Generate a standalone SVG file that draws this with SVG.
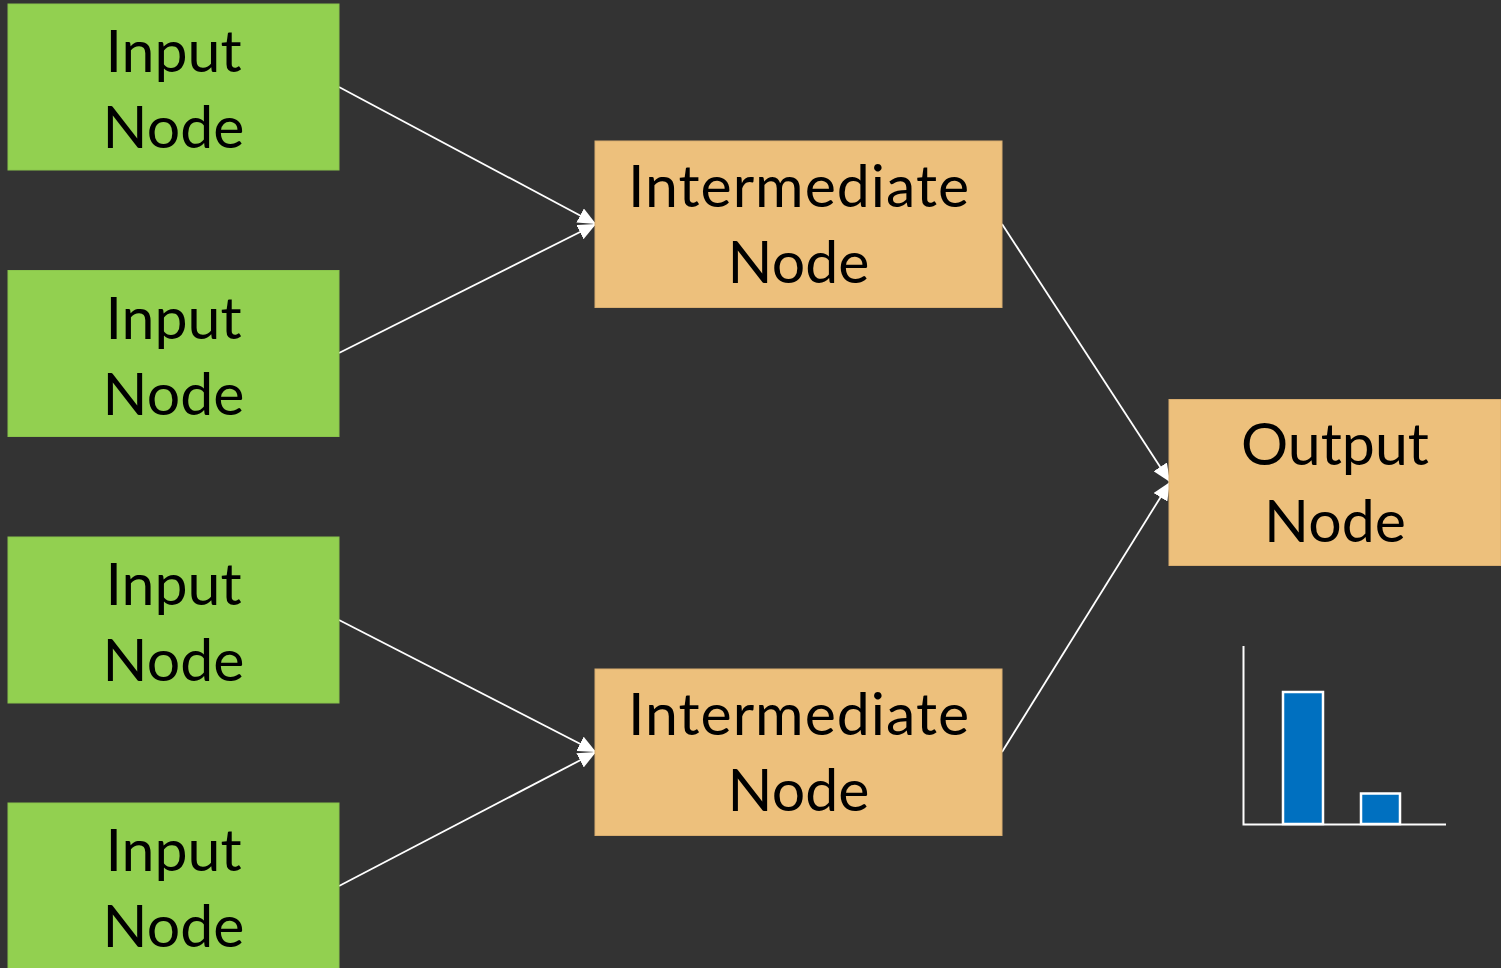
<svg xmlns="http://www.w3.org/2000/svg" width="1501" height="968" viewBox="0 0 1501 968">
  <style>
    .bg { fill: #333333; }
    .input { fill: #92D050; stroke: #8AC44C; stroke-width: 1; }
    .mid { fill: #EDC07C; stroke: #D9AE70; stroke-width: 1; }
    .label { font-family: Lato, "Liberation Sans", sans-serif; font-size: 59px; fill: #000000; text-anchor: middle; }
    .wide { letter-spacing: 1px; }
    .edge { stroke: #FFFFFF; stroke-width: 1.8; fill: none; marker-end: url(#arrow); }
    .bar { fill: #0070C0; stroke: #FFFFFF; stroke-width: 2.5; }
    .axis { stroke: #FFFFFF; stroke-width: 2; fill: none; }
  </style>
  <defs>
    <marker id="arrow" viewBox="0 0 18 16" refX="18" refY="8" markerWidth="18" markerHeight="16" markerUnits="userSpaceOnUse" orient="auto">
      <path d="M0,0 L18,8 L0,16 Z" fill="#FFFFFF"/>
    </marker>
  </defs>

  <rect class="bg" x="0" y="0" width="1501" height="968"/>

  <!-- connectors -->
  <g id="connectors">
    <line class="edge" x1="339" y1="87" x2="596" y2="224"/>
    <line class="edge" x1="339" y1="353" x2="596" y2="224"/>
    <line class="edge" x1="339" y1="620" x2="596" y2="752"/>
    <line class="edge" x1="339" y1="886" x2="596" y2="752"/>
    <line class="edge" x1="1002" y1="224" x2="1170" y2="482"/>
    <line class="edge" x1="1002" y1="752" x2="1170" y2="482"/>
  </g>

  <!-- input layer -->
  <g id="input1">
    <rect class="input" x="8" y="4" width="331" height="166"/>
    <text class="label" x="173.5" y="72">Input</text>
    <text class="label" x="173.5" y="148">Node</text>
  </g>
  <g id="input2">
    <rect class="input" x="8" y="270.5" width="331" height="166"/>
    <text class="label" x="173.5" y="338.5">Input</text>
    <text class="label" x="173.5" y="414.5">Node</text>
  </g>
  <g id="input3">
    <rect class="input" x="8" y="537" width="331" height="166"/>
    <text class="label" x="173.5" y="605">Input</text>
    <text class="label" x="173.5" y="681">Node</text>
  </g>
  <g id="input4">
    <rect class="input" x="8" y="803" width="331" height="166"/>
    <text class="label" x="173.5" y="871">Input</text>
    <text class="label" x="173.5" y="947">Node</text>
  </g>

  <!-- intermediate layer -->
  <g id="intermediate1">
    <rect class="mid" x="595" y="141" width="407" height="166.5"/>
    <text class="label wide" x="799" y="207">Intermediate</text>
    <text class="label" x="798.5" y="283">Node</text>
  </g>
  <g id="intermediate2">
    <rect class="mid" x="595" y="669" width="407" height="166.5"/>
    <text class="label wide" x="799" y="735">Intermediate</text>
    <text class="label" x="798.5" y="811">Node</text>
  </g>

  <!-- output -->
  <g id="output">
    <rect class="mid" x="1169" y="399.5" width="332" height="166"/>
    <text class="label" x="1335" y="465">Output</text>
    <text class="label" x="1335" y="542">Node</text>
  </g>

  <!-- small bar chart -->
  <g id="chart">
    <rect class="bar" x="1283" y="692" width="40" height="132"/>
    <rect class="bar" x="1361" y="793.5" width="39" height="30.5"/>
    <polyline class="axis" points="1243.5,646 1243.5,824.5 1446,824.5"/>
  </g>
</svg>
